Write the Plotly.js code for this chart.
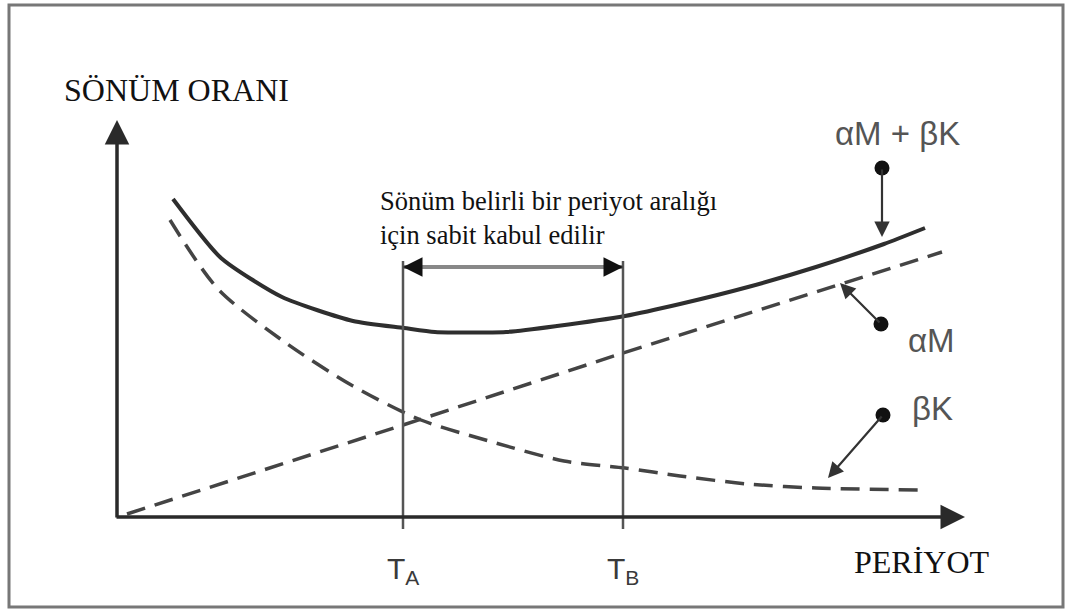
<!DOCTYPE html>
<html>
<head>
<meta charset="utf-8">
<script src="https://cdn.plot.ly/plotly-3.0.1.min.js"></script>
<style>html,body{margin:0;padding:0;background:#fff;}#chart{width:1066px;height:612px;}</style>
</head>
<body>
<div id="chart"></div>
<script>
// Schematic values (period on x, damping ratio on y)
const xSum = [0.56, 1.04, 1.65, 2.36, 2.87, 3.18, 3.89, 4.40, 5.08, 5.63, 6.31, 6.99, 7.67, 8.08];
const ySum = [3.18, 2.59, 2.20, 1.96, 1.89, 1.85, 1.85, 1.91, 2.01, 2.13, 2.30, 2.50, 2.73, 2.89];
const xBK  = [0.53, 1.01, 1.69, 2.36, 3.04, 3.72, 4.47, 5.08, 5.63, 6.31, 6.99, 8.04];
const yBK  = [2.97, 2.28, 1.74, 1.31, 0.97, 0.76, 0.56, 0.49, 0.41, 0.33, 0.29, 0.27];
const xAM  = [0.10, 2.86, 5.06, 8.25];
const yAM  = [0.03, 0.92, 1.64, 2.65];
const periods = [2.86, 5.06];               // T_A, T_B
const periodLabels = ['T<sub>A</sub>', 'T<sub>B</sub>'];
const axisEnd = {x: 8.48, y: 3.97};
const dotX = [7.65, 7.64, 7.66];
const dotY = [3.49, 1.93, 1.02];
const tipX = [7.65, 7.23, 7.11];
const tipY = [2.80, 2.34, 0.39];
const curveLabels = ['αM + βK', 'αM', 'βK'];
const curveLabelX = [7.80, 8.14, 8.15];
const curveLabelY = [3.84, 1.77, 1.09];
const rangeTop = 2.50;
const noteText = 'Sönüm belirli bir periyot aralığı<br>için sabit kabul edilir';

const serif = 'Liberation Serif, Times New Roman, serif';
const sans = 'Liberation Sans, Arial, sans-serif';

const traces = [
  {x: xSum, y: ySum, mode: 'lines', line: {color: '#2e2e2e', width: 4, shape: 'spline', smoothing: 0.6}, hoverinfo: 'skip'},
  {x: xBK, y: yBK, mode: 'lines', line: {color: '#444', width: 3.5, dash: '19px,10px', shape: 'spline', smoothing: 0.8}, hoverinfo: 'skip'},
  {x: xAM, y: yAM, mode: 'lines', line: {color: '#444', width: 3.5, dash: '19px,10px'}, hoverinfo: 'skip'},
  {x: dotX, y: dotY, mode: 'markers', marker: {color: '#111', size: 15}, hoverinfo: 'skip'}
];

const shapes = [
  {type: 'rect', xref: 'paper', yref: 'paper', x0: 9/1066, x1: 1063/1066, y0: 1 - 607/612, y1: 1 - 5/612,
   line: {color: '#777', width: 3}},
  {type: 'line', x0: periods[0], x1: periods[1], y0: rangeTop, y1: rangeTop, line: {color: '#888', width: 4}}
];
periods.forEach(p => shapes.push({type: 'line', x0: p, x1: p, y0: -0.12, y1: 2.56, line: {color: '#555', width: 2.5}}));

const annotations = [
  // axes
  {x: 0, y: axisEnd.y, ax: 0, ay: -0.02, axref: 'x', ayref: 'y', xref: 'x', yref: 'y', text: '', showarrow: true,
   arrowhead: 2, arrowsize: 1.4, arrowwidth: 3.5, arrowcolor: '#2a2a2a'},
  {x: axisEnd.x, y: 0, ax: -0.02, ay: 0, axref: 'x', ayref: 'y', xref: 'x', yref: 'y', text: '', showarrow: true,
   arrowhead: 2, arrowsize: 1.4, arrowwidth: 3.5, arrowcolor: '#2a2a2a'},
  // period range arrowheads (black heads on a grey shaft)
  {x: periods[1], y: rangeTop, ax: periods[1] - 0.2, ay: rangeTop, axref: 'x', ayref: 'y', xref: 'x', yref: 'y', text: '',
   showarrow: true, arrowhead: 2, arrowsize: 1.3, arrowwidth: 3, arrowcolor: '#111'},
  {x: periods[0], y: rangeTop, ax: periods[0] + 0.2, ay: rangeTop, axref: 'x', ayref: 'y', xref: 'x', yref: 'y', text: '',
   showarrow: true, arrowhead: 2, arrowsize: 1.3, arrowwidth: 3, arrowcolor: '#111'},
  // titles
  {x: -0.55, y: 4.27, xref: 'x', yref: 'y', xanchor: 'left', yanchor: 'middle', showarrow: false,
   text: 'SÖNÜM ORANI', font: {family: serif, size: 32, color: '#111'}},
  {x: 7.35, y: -0.45, xref: 'x', yref: 'y', xanchor: 'left', yanchor: 'middle', showarrow: false,
   text: 'PERİYOT', font: {family: serif, size: 32, color: '#111'}},
  {x: 2.61, y: 2.99, xref: 'x', yref: 'y', xanchor: 'left', yanchor: 'middle', align: 'left', showarrow: false,
   text: noteText, font: {family: serif, size: 26.5, color: '#111'}}
];
periods.forEach((p, i) => annotations.push({x: p, y: -0.53, xref: 'x', yref: 'y', xanchor: 'center', yanchor: 'middle',
  showarrow: false, text: periodLabels[i], font: {family: sans, size: 30, color: '#3a3a3a'}}));
dotX.forEach((d, i) => {
  annotations.push({x: tipX[i], y: tipY[i], ax: d, ay: dotY[i], axref: 'x', ayref: 'y', xref: 'x', yref: 'y', text: '',
    showarrow: true, arrowhead: 2, arrowsize: 1.4, arrowwidth: 2.2, arrowcolor: '#333'});
  annotations.push({x: curveLabelX[i], y: curveLabelY[i], xref: 'x', yref: 'y', xanchor: 'center', yanchor: 'middle',
    showarrow: false, text: curveLabels[i], font: {family: sans, size: 33, color: '#555'}});
});

const layout = {
  width: 1066, height: 612,
  margin: {l: 0, r: 0, t: 0, b: 0},
  paper_bgcolor: '#fff', plot_bgcolor: '#fff',
  showlegend: false,
  xaxis: {range: [-1.17, 9.49], visible: false, fixedrange: true},
  yaxis: {range: [-0.95, 5.17], visible: false, fixedrange: true},
  shapes: shapes,
  annotations: annotations
};

Plotly.newPlot('chart', traces, layout, {displayModeBar: false, staticPlot: true});
</script>
</body>
</html>
